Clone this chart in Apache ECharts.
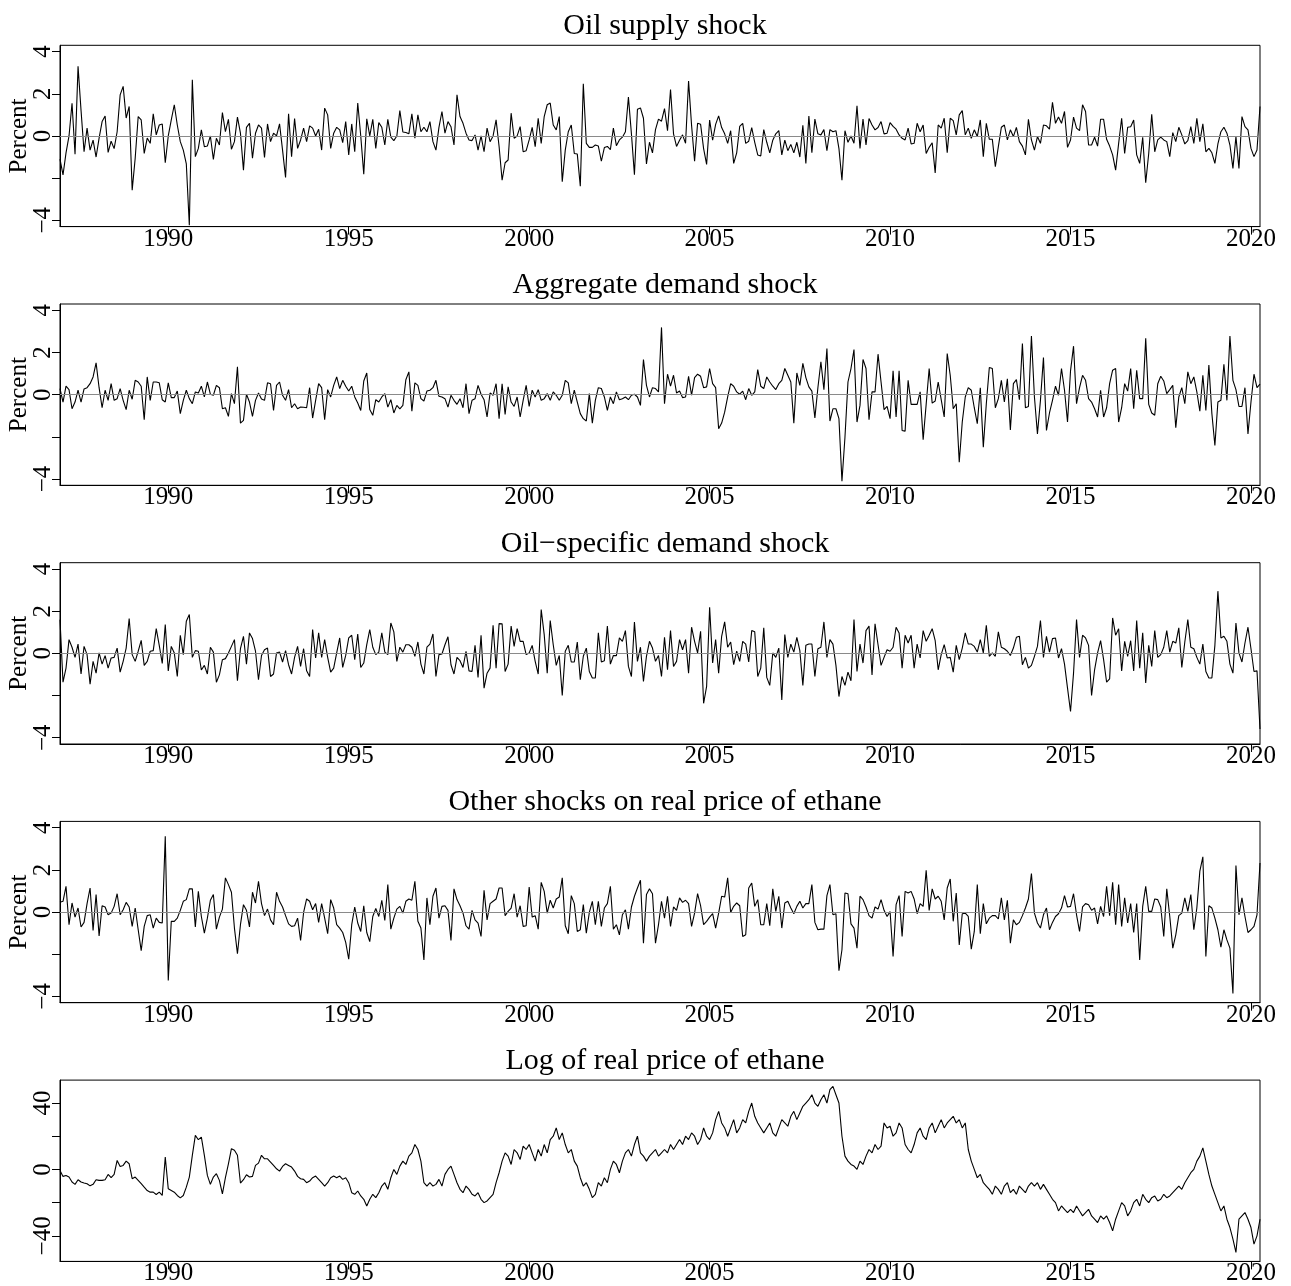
<!DOCTYPE html>
<html>
<head>
<meta charset="utf-8">
<script src="https://cdn.jsdelivr.net/npm/echarts@6/dist/echarts.min.js"></script>
<style>
html,body{margin:0;padding:0;background:#fff;}
#chart{width:1291px;height:1286px;}
</style>
</head>
<body>
<div id="chart"></div>
<script>
// Monthly series, starting January 1987
const startYear = 1987;
const titles = ["Oil supply shock", "Aggregate demand shock", "Oil\u2212specific demand shock", "Other shocks on real price of ethane", "Log of real price of ethane"];
const yearTicks = [1990, 1995, 2000, 2005, 2010, 2015, 2020];
const shockTicks = [-4, -2, 0, 2, 4];
const shockLabels = [-4, 0, 2, 4];
const priceTicks = [-40, -20, 0, 20, 40];
const priceLabels = [-40, 0, 40];

const oilSupply = [
-1.1,-1.85,-0.8,0,1.55,-0.87,3.3,1.2,-0.75,0.37,-0.67,-0.2,
-1.0,-0.1,0.68,0.95,-0.78,-0.25,-0.6,0.2,1.95,2.35,0.85,1.4,
-2.57,-1.06,0.92,0.76,-0.83,-0.1,-0.35,1.05,0.05,0.52,0.57,-1.27,
0,0.76,1.48,0.52,-0.27,-0.67,-1.33,-4.24,2.67,-0.98,-0.59,0.29,
-0.51,-0.48,0,-1.11,-0.11,-0.43,1.11,0.2,0.79,-0.63,-0.27,0.89,
0.13,-1.62,0.41,0.6,-1.06,0.13,0.52,0.37,-1.02,0.57,-0.27,0.13,
0,0.57,-0.67,-1.97,1.05,-0.98,0.83,-0.59,-0.19,0.37,-0.27,0.48,
0.37,0,0.32,-0.67,1.32,1.0,-0.59,0.13,0.41,0.29,-0.32,0.68,
-0.9,0.57,-0.75,1.56,0,-1.81,0.81,0,0.79,-0.59,0.63,0.41,
-0.43,0.79,-0.06,-0.22,0,1.2,0.19,0.16,0.1,1.05,-0.11,1.0,
0.2,0.41,0.2,0.68,-0.27,-0.67,0.41,1.16,0.13,0.68,0.44,-0.43,
1.95,0.92,0.6,0.13,-0.19,-0.22,0.05,-0.67,0,-0.75,0.37,-0.27,
0,0.76,-0.5,-2.1,-1.27,-1.14,1.08,-0.11,0,0.44,-0.75,-0.7,
-0.19,0.41,-0.51,0.84,-0.35,0.92,1.48,1.56,0.52,0.29,0.92,-2.17,
-0.67,0.2,0.52,-0.83,-0.86,-2.38,2.48,-0.35,-0.54,-0.54,-0.43,-0.48,
-1.2,-0.55,-0.5,-0.65,0.37,-0.46,-0.19,-0.06,0.2,1.84,0.1,-1.84,
1.27,1.33,0.84,-1.33,-0.3,-0.8,0.3,0.8,0.7,1.3,0.25,2.2,
0.1,-0.5,-0.2,0.05,-0.35,2.6,0.5,-1.2,0.6,0.55,-0.6,-1.35,
0.75,-0.2,0.55,0.95,0.4,0.1,-0.35,0.25,-1.3,-0.8,0.45,0.6,
-0.35,-0.25,0.4,-0.3,-0.9,-0.95,0.3,-0.3,-0.8,-0.2,0.1,0.25,
-0.9,-0.2,-0.7,-0.4,-0.8,-0.3,-1.0,0.5,-1.3,0.95,-0.8,0.8,
0.1,0.05,0.3,-0.7,0.3,0.2,0.25,-0.6,-2.1,0.25,-0.3,0,
-0.35,1.43,-0.59,0.8,-0.43,0.83,0.52,0.29,0.4,0.68,0.1,0.13,
0.63,0.45,0.32,0.05,-0.11,-0.19,0.37,-0.38,-0.35,0.6,0.2,0.52,
-0.83,-0.54,-0.32,-1.75,0.52,0.37,0.84,-0.79,0.84,0.73,0.05,1.0,
1.2,0.05,0.37,-0.11,0.29,-0.03,0.76,-0.98,0.6,-0.16,-0.16,-1.46,
-0.51,0.41,0.52,-0.19,0.29,-0.03,0.41,-0.27,-0.48,-0.9,0.79,-0.19,
-0.67,-0.03,-0.35,0.52,0.48,0.32,1.59,0.6,0.9,0.6,1.16,-0.54,
-0.19,0.89,0.37,0.25,1.48,1.16,-0.43,-0.43,-0.06,-0.48,0.79,0.79,
-0.16,-0.48,-0.9,-1.62,-0.35,0.84,-0.83,0.41,0.44,0.76,-0.9,-1.3,
-0.06,-2.22,-0.83,1.03,-0.75,-0.19,-0.06,-0.19,-0.27,-0.98,0.16,-0.27,
0.41,0.05,-0.38,-0.22,0.44,-0.35,0.84,-0.27,0.57,-0.75,-0.59,-0.8,
-1.3,-0.38,0.2,0.41,0.13,-0.43,-1.54,-0.03,-1.54,0.92,0.44,0.29,
-0.59,-0.98,-0.67,1.4
];

const aggDemand = [
0.29,-0.35,0.4,0.24,-0.67,-0.35,0.21,-0.35,0.27,0.33,0.52,0.84,
1.51,0.33,-0.62,0.21,-0.27,0.52,-0.27,-0.19,0.29,-0.27,-0.71,0.21,
-0.22,0.68,0.6,0.4,-1.19,0.84,-0.27,0.6,0.6,0.56,-0.24,-0.35,
0.56,-0.14,-0.14,0.17,-0.9,-0.27,0.21,-0.19,-0.43,0.13,0.08,0.4,
-0.11,0.6,0.02,-0.03,0.44,0.33,-0.67,-0.62,-1.03,0.05,-0.43,1.32,
-1.35,-1.22,0.02,-0.35,-1.03,-0.27,0.08,-0.21,-0.27,0.56,0.52,-0.75,
0.44,0.6,-0.03,-0.27,0.24,-0.62,-0.43,-0.67,-0.59,-0.6,-0.62,0.33,
-1.11,-0.27,0.52,0.33,-1.19,0.24,-0.11,0.44,0.84,0.29,0.68,0.4,
0.17,0.4,-0.11,-0.4,-0.75,0.65,1.03,-0.71,-0.98,-0.24,-0.35,-0.11,
0.05,-0.59,-0.24,-0.87,-0.51,-0.67,-0.51,0.71,1.08,-0.79,0.56,0.44,
-0.19,-0.3,0.17,0.21,0.33,0.68,-0.08,-0.11,-0.19,-0.59,-0.03,-0.27,
-0.46,-0.19,-0.62,0.52,-0.9,-0.27,-0.19,0.44,0.02,-0.24,-1.06,0.08,
-0.03,0.52,-1.14,0.52,-0.94,0.37,-0.35,-0.56,-0.11,-1.06,-0.27,0.44,
-0.56,0.21,-0.11,0.24,-0.27,-0.19,0.05,-0.27,0.13,-0.03,-0.27,-0.03,
0.68,0.56,-0.43,0.21,-0.35,-0.9,-1.14,-1.25,0.05,-1.35,-0.27,0.33,
0.29,-0.11,-0.75,-0.11,-0.43,0.13,-0.24,-0.19,-0.11,-0.24,-0.03,0.02,
-0.11,-0.51,1.67,0.44,-0.11,0.33,0.29,0.13,3.19,
-0.43,0.97,0.4,0.92,0.08,0.17,-0.14,-0.11,0.87,-0.03,
0.81,0.97,0.87,0.33,0.37,1.24,0.52,0.33,-1.62,-1.35,
-0.83,-0.11,0.52,0.4,0.13,0.02,0.17,-0.24,0.29,-0.03,
0.13,1.19,0.4,0.29,0.84,0.6,0.4,0.24,0.52,0.68,
1.24,0.92,0.6,-1.35,1.03,0.44,1.48,0.81,0.37,0.17,
-1.1,0.33,1.56,0.24,2.19,-1.25,-0.67,-0.67,-1.14,-4.11,
-2.02,0.6,1.24,2.14,-1.3,-0.51,1.67,1.24,-1.19,0.13,
0.13,1.92,0.6,-0.71,-0.56,-1.14,1.13,-1.06,1.13,-1.7,
-1.73,0.68,-0.46,-0.46,-0.46,0.13,-2.14,-0.46,1.24,-0.4,
-0.3,0.6,-0.24,-1.06,1.95,0.92,-0.67,-0.43,-3.21,-1.3,
-0.11,0.33,0.21,-0.62,-1.38,0.33,-2.49,-0.43,1.29,1.24,
-0.62,-0.19,0.68,-0.35,0.75,-1.67,0.52,0.71,-0.24,2.43,
-0.62,-0.56,2.78,-0.11,-1.86,-0.27,1.76,-1.7,-0.87,-0.27,
0.4,-0.03,1.24,0.21,-1.3,1.13,2.3,-0.43,0.33,0.92,
0.68,-0.19,-0.35,-0.67,-1.06,0.21,-1.06,-0.62,0.52,1.16,
1.24,-1.3,-0.62,0.52,0.17,1.24,-0.67,1.16,-0.19,-0.19,
2.67,-0.46,-0.87,-0.98,0.52,0.87,0.65,0.05,0.24,0.44,
-1.57,-0.11,0.33,-0.43,1.08,0.52,0.84,0.13,-0.78,0.92,
-0.75,1.4,-0.9,-2.41,-0.35,-0.27,1.44,-0.27,2.78,0.68,
0.24,-0.56,-0.56,0.33,-1.86,-0.35,0.97,0.33,0.5
];

const oilSpecific = [
1.6,-1.37,-0.7,0.65,0.29,-0.19,0.44,-0.98,0.33,-0.06,-1.46,-0.38,
-0.94,0.02,-0.51,-0.11,-0.7,-0.22,-0.19,0.25,-0.89,-0.38,0.25,1.65,
-0.06,-0.38,0.1,0.62,-0.57,-0.38,0.1,0.13,1.17,0.38,-0.48,1.37,
-0.83,0.33,0.02,-1.1,0.86,-0.06,1.52,1.84,-0.19,0.13,0.1,-0.79,
-0.57,-0.98,0.29,0.06,-1.37,-1.02,-0.3,-0.25,0.02,0.33,0.65,-1.3,
0.22,0.81,-0.51,0.97,0.7,0.1,-1.25,-0.1,0.17,0.25,-1.1,-0.98,
0.02,0.06,-0.41,0.13,-0.54,-0.98,-0.19,0.33,-0.62,0.22,-0.83,-1.1,
1.13,-0.22,0.97,-0.19,0.65,-0.19,-0.89,-0.7,0.02,0.73,-0.67,-0.1,
0.73,0.86,-0.3,0.92,-0.67,-0.46,0.41,1.13,0.29,-0.06,0.06,0.97,
0.06,-0.06,1.44,1.02,-0.38,0.29,0.06,0.41,0.41,0.29,-0.14,0.54,
-0.51,-0.98,0.29,0.44,0.92,-1.1,-0.06,-0.03,0.41,0.79,-0.54,-0.98,
-0.19,-0.35,-0.67,0.1,-0.83,-0.86,0.38,-1.14,0.86,-1.65,-0.94,-0.7,
1.33,-0.7,1.41,1.4,-0.86,-0.51,1.29,0.33,1.17,0.57,0.57,-0.06,
0.02,0.38,-0.38,-0.98,2.08,0.89,-0.94,1.56,0.41,-0.57,-0.1,-2.0,
0.1,0.38,-0.41,-0.41,0.54,-1.25,-0.14,0.25,-0.86,-1.17,-1.17,0.97,
-0.41,-0.35,1.29,-0.51,-0.1,-0.11,0.73,0.57,1.08,-0.62,-1.1,1.49,
-0.38,0.29,-1.33,-0.14,0.57,0.25,-0.38,-0.1,
-1.1,0.76,-0.78,1.08,-0.62,-0.38,0.65,0.17,0.65,-0.94,1.24,0.57,
0.02,1.05,-2.37,-1.57,2.19,-0.46,0.65,-0.94,0.81,1.49,0.29,0.54,
-0.54,0.1,-0.38,0.57,0.44,-0.41,1.08,1.02,-1.1,-0.7,1.21,-1.14,
-1.52,0.02,-0.19,0.25,-2.21,0.89,-0.19,0.44,0.06,0.76,0.13,-1.52,
0.38,0.44,0.44,-1.1,0.22,0.29,1.49,-0.19,0.65,0.44,-0.57,-2.05,
-1.1,-1.52,-0.89,-1.3,1.6,-0.86,0.44,-0.46,1.08,1.29,-1.02,1.4,
0.41,-0.57,-0.19,0.17,0.1,0.29,1.24,0.97,-0.7,0.86,0.49,0.86,
-0.7,0.44,-0.22,1.08,0.57,0.86,1.17,0.6,-0.78,-0.06,0.41,-0.22,
-0.19,-0.89,0.38,-0.3,0.25,0.97,0.44,0.44,0.33,0.06,0.65,0.02,
1.33,-0.14,0.02,-0.14,1.02,0.29,0.22,0.1,-0.1,0.25,0.76,0.81,
-0.54,-0.19,-0.7,-0.57,-0.14,0.33,1.56,-0.19,0.81,0.06,0.7,0.73,
-0.22,0.22,-0.51,-1.65,-2.76,-0.94,1.6,-0.19,0.86,0.73,0.38,-2.0,
-0.78,0.02,0.6,-0.3,-1.37,-1.21,1.68,0.86,1.17,-0.83,0.57,-0.14,
0.6,-0.83,1.56,-0.7,0.97,-1.41,0.38,-0.62,1.08,-0.19,-0.06,0.29,
1.08,0.06,0.57,0.49,1.21,-0.67,0.54,1.6,0.29,0.22,-0.19,-0.51,
0.44,-0.86,-1.17,-1.17,0.38,2.95,0.73,0.81,0.57,-0.51,-0.94,1.44,
0.02,-0.41,0.49,1.24,0.22,-0.86,-0.83,-3.59
];

const otherShocks = [
0.46,0.51,1.22,-0.6,0.43,-0.24,0.19,-0.71,-0.49,0.4,1.14,-0.87,
0.83,-1.13,0.3,0.24,-0.13,-0.05,0.27,0.87,-0.13,0.11,0.46,0.24,
-0.68,0.19,-0.84,-1.83,-0.68,-0.17,-0.13,-0.76,-0.29,-0.49,-0.52,3.6,
-3.25,-0.44,-0.44,-0.29,0.08,0.51,0.59,1.1,1.1,-0.71,0.98,-0.21,
-1.0,-0.29,0.56,0.83,-0.81,-0.24,0.14,1.62,1.3,0.94,-0.76,-1.98,
-0.6,0.35,0.08,-0.71,0.94,0.43,1.46,0.4,-0.17,0.14,-0.37,-0.6,
0.94,0.51,0.24,-0.17,-0.56,-0.68,-0.65,-0.29,-1.35,-0.02,0.62,0.51,
0.11,0.4,-0.49,0.4,-0.29,-1.03,0.59,0.19,-0.6,-0.76,-0.97,-1.44,
-2.24,-0.6,0.24,-0.52,-0.92,0.3,-0.97,-1.4,-0.21,0.17,-0.21,0.56,
-0.4,1.3,-0.81,-0.29,0.14,0.27,-0.05,0.51,0.62,0.56,1.46,-0.44,
-0.76,-2.27,0.67,-0.6,0.75,1.14,-0.29,0.27,0.3,0.08,-1.35,1.1,
0.59,0.3,-0.05,-0.65,-0.81,0.08,-0.37,-0.52,-1.16,1.03,-0.37,0.4,
0.51,0.62,1.14,1.14,-0.17,0.03,0.19,0.87,-0.24,0.3,-0.68,-0.65,
1.19,-0.24,-0.17,-0.81,1.41,0.98,-0.05,0.56,0.19,0.62,0.71,1.62,
-0.65,-1.03,0.78,0.4,-0.92,-0.84,0.35,-1.0,-0.02,0.51,-0.6,0.51,
-0.68,0.19,0.4,1.22,-0.81,-0.6,-1.08,-0.13,0.11,-0.81,0.24,0.75,
1.14,1.51,-1.48,0.83,1.1,0.87,-1.48,-0.6,
0.51,-0.29,0.75,-0.68,0.24,0.08,0.67,0.46,0.56,0.4,-0.68,-0.05,
0.87,0.3,-0.6,-0.44,-0.24,-0.08,-0.76,-0.05,0.75,0.71,1.62,-0.02,
0.27,0.43,0.3,-1.16,-1.08,1.14,1.38,0.27,0.59,-0.6,-0.6,0.4,
-0.65,1.1,0.03,0.75,-0.76,0.43,0.51,0.19,-0.08,0.27,0.51,0.19,
0.4,0.4,1.3,-0.49,-0.84,-0.81,-0.81,0.78,1.3,-0.13,-0.08,-2.78,
-1.79,0.9,0.87,-0.56,-0.76,-1.71,0.75,0.59,0.24,-0.17,-0.29,0.24,
0.14,0.59,0.08,-0.21,0.03,-2.11,0.35,0.78,-1.16,0.98,0.9,0.98,
0.62,-0.08,0.4,0.27,1.98,0.08,1.1,0.62,0.75,0.51,-0.37,1.14,
1.57,-0.44,0.9,-1.56,-0.08,-0.05,-0.21,-1.76,-0.92,1.3,-1.03,0.4,
-0.56,-0.29,-0.17,-0.17,-0.33,0.67,-0.37,0.56,-1.48,-0.37,-0.6,-0.49,
-0.17,0.19,0.62,1.83,-0.05,-0.52,-0.76,-0.13,0.19,-0.84,-0.49,-0.21,
-0.08,0.19,0.78,0.24,0.27,0.87,-0.13,-0.92,0.24,0.4,0.35,0.08,
0.19,-0.56,0.27,-0.21,1.22,-0.17,1.41,-0.6,1.3,-0.68,0.67,-0.52,
0.4,-0.97,0.4,-2.27,0.27,1.22,0.03,0.03,0.62,0.59,0.24,-1.16,
1.1,-0.21,-1.71,-1.08,-0.17,-0.05,0.67,0.03,0.83,-0.84,0.19,1.94,
2.62,-2.11,0.3,0.19,-0.29,-0.84,-1.67,-0.84,-1.32,-1.71,-3.86,2.21,
-0.13,0.67,-0.21,-0.97,-0.84,-0.68,-0.13,2.33
];

const logPrice = [
-0.6,-4.2,-3.6,-4.6,-7.6,-9,-6.2,-7.6,-8.2,-8.6,-9.9,-9,
-6.2,-6.6,-6.6,-6.2,-3,-5,-3,5.4,1.8,2.4,5,3.4,
-5.6,-4.6,-6.6,-8.6,-10.7,-12.7,-13.7,-13.7,-15.1,-13.7,-15.7,7.4,
-11.7,-12.7,-13.7,-15.7,-17.1,-15.7,-10.7,-4.6,8.5,20.5,17.9,19.5,
8.5,-3.6,-9,-4.6,-2.6,-6.6,-14.7,-5,3.4,12.5,11.5,8.5,
-8.2,-6.2,-3.2,-4.6,-4.2,2.4,3.8,8.5,6.4,6.4,4.4,2.4,
0.4,-1,1.8,3.4,2.4,1.4,-1,-4.2,-5.6,-6,-8,-7,
-5,-4,-6,-8,-10,-8,-5,-4,-5,-4,-6,-5,
-8,-14,-15,-13,-16,-18,-22,-18,-15,-17,-14,-10,
-8,-12,-5,0,-3,2,5,3,8,10,15,12,
5,-8,-10,-8,-10,-9,-6,-10,-3,0,2,-3,
-8,-12,-14,-10,-12,-15,-16,-14,-18,-20,-19,-17,
-15,-8,-2,5,10,8,3,12,10,6,14,12,
15,10,5,12,8,15,10,18,20,25,18,22,
15,10,12,5,2,-5,-10,-8,-12,-17,-15,-8,
-10,-5,-8,0,5,3,-2,5,10,12,8,15,
20,10,8,5,8,10,12,8,10,12,10,15,
12,15,18,15,20,18,22,20,15,18,25,20,
18,22,30,35,28,25,20,25,30,22,25,30,
28,35,40,32,28,25,22,25,28,22,20,25,
30,28,26,32,35,30,34,38,40,42,45,40,
38,42,45,40,48,50,45,40,20,8,5,3,
2,0,5,3,8,12,10,15,12,14,28,25,
26,20,22,28,25,15,12,10,15,22,25,20,
18,25,28,22,26,30,25,28,30,32,28,30,
25,28,12,5,0,-5,-3,-8,-10,-12,-15,-10,
-12,-15,-10,-8,-14,-12,-15,-10,-12,-14,-10,-8,
-10,-8,-12,-9,-12,-15,-18,-20,-25,-22,-24,-26,
-24,-26,-22,-25,-28,-26,-24,-28,-30,-32,-28,-30,
-28,-32,-37,-30,-25,-20,-22,-28,-25,-20,-18,-22,
-15,-18,-20,-17,-16,-19,-18,-15,-17,-16,-14,-12,
-10,-12,-8,-5,-2,0,5,8,13,5,-3,-10,
-15,-20,-25,-22,-30,-35,-42,-50,-30,-28,-26,-30,
-35,-45,-40,-30
];

const seriesList = [oilSupply, aggDemand, oilSpecific, otherShocks, logPrice];

const FONT = "'Liberation Serif','Times New Roman',serif";
const plotLeft = 60, plotWidth = 1200, firstTop = 45.3, pitch = 258.7, plotHeight = 181.3;

function fmtNum(v){ return (v < 0 ? '\u2212' + Math.abs(v) : String(v)); }

const grid = [], xAxis = [], yAxis = [], series = [], title = [];
seriesList.forEach((vals, k) => {
  const top = firstTop + k * pitch;
  const isPrice = (k === 4);
  grid.push({left: plotLeft, width: plotWidth, top: top, height: plotHeight, show: true,
    containLabel: false, outerBoundsMode: 'none',
    borderColor: '#000', borderWidth: 1, backgroundColor: 'transparent'});
  title.push({text: titles[k], left: plotLeft + plotWidth / 2, textAlign: 'center', top: top - 39,
    textStyle: {fontFamily: FONT, fontSize: 30, fontWeight: 'normal', color: '#000'}});
  xAxis.push({type: 'value', gridIndex: k, min: startYear, max: startYear + (400 - 1) / 12,
    axisLine: {show: true, onZero: false, lineStyle: {color: '#000', width: 1}},
    axisTick: {show: true, length: 8, customValues: yearTicks, lineStyle: {color: '#000', width: 1}},
    axisLabel: {show: true, customValues: yearTicks, margin: 0, fontFamily: FONT, fontSize: 25, color: '#000',
      formatter: v => String(v)},
    splitLine: {show: false}});
  yAxis.push({type: 'value', gridIndex: k,
    min: isPrice ? -55.4 : -4.3, max: isPrice ? 53.8 : 4.3,
    name: isPrice ? '' : 'Percent', nameLocation: 'middle', nameGap: 28, nameRotate: 90,
    nameMoveOverlap: false,
    nameTextStyle: {fontFamily: FONT, fontSize: 25, color: '#000'},
    axisLine: {show: true, onZero: false, lineStyle: {color: '#000', width: 1}},
    axisTick: {show: true, length: 8, customValues: isPrice ? priceTicks : shockTicks, lineStyle: {color: '#000', width: 1}},
    axisLabel: {show: true, customValues: isPrice ? priceLabels : shockLabels, rotate: 90, margin: 4,
      fontFamily: FONT, fontSize: 25, color: '#000', formatter: v => fmtNum(v)},
    splitLine: {show: false}});
  const data = vals.map((v, i) => [startYear + i / 12, v]);
  const s = {type: 'line', xAxisIndex: k, yAxisIndex: k, data: data, showSymbol: false, symbol: 'none',
    lineStyle: {color: '#000', width: 1.1}, animation: false, silent: true, z: 3};
  if (!isPrice) {
    s.markLine = {silent: true, symbol: 'none', animation: false, label: {show: false},
      lineStyle: {color: '#8a8a8a', width: 1.2, type: 'solid'}, data: [{yAxis: 0}]};
  }
  series.push(s);
});

const chart = echarts.init(document.getElementById('chart'), null, {renderer: 'canvas'});
chart.setOption({animation: false, backgroundColor: '#fff', title, grid, xAxis, yAxis, series});
</script>
</body>
</html>
